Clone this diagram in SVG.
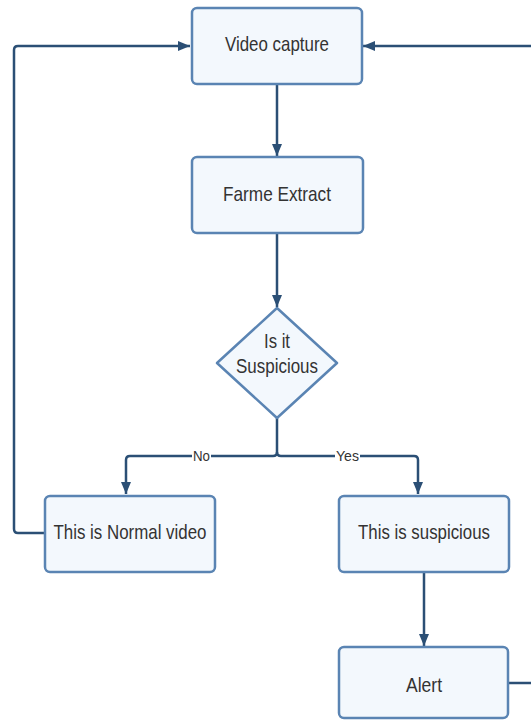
<svg xmlns="http://www.w3.org/2000/svg" width="531" height="720" viewBox="0 0 531 720">
<style>
.box{fill:#f3f8fd;stroke:#5a84b3;stroke-width:2.5}
.t{font-family:"Liberation Sans",Arial,sans-serif;font-size:21px;fill:#333333;text-anchor:middle}
.lbl{font-family:"Liberation Sans",Arial,sans-serif;font-size:15px;fill:#333333;text-anchor:middle}
.c{fill:none;stroke:#2b4f75;stroke-width:2.5;stroke-linejoin:round}
</style>
<defs>
<marker id="ah" viewBox="0 0 12 10" refX="12" refY="5" markerWidth="12" markerHeight="10" markerUnits="userSpaceOnUse" orient="auto">
<path d="M0,0 L12,5 L0,10 Z" fill="#2b4f75"/>
</marker>
</defs>
<rect width="531" height="720" fill="#ffffff"/>
<g id="connectors">
<path class="c" d="M277,84 V156" marker-end="url(#ah)"/>
<path class="c" d="M277,233 V307" marker-end="url(#ah)"/>
<path class="c" d="M277,418 V452 Q277,456 273,456 H130 Q126,456 126,460 V494" marker-end="url(#ah)"/>
<path class="c" d="M277,452 Q277,456 281,456 H414 Q418,456 418,460 V494" marker-end="url(#ah)"/>
<path class="c" d="M424,572 V646" marker-end="url(#ah)"/>
<path class="c" d="M45,533 H18 Q14,533 14,529 V50 Q14,46 18,46 H190" marker-end="url(#ah)"/>
<path class="c" d="M508,683 H540"/>
<path class="c" d="M540,46 H363" marker-end="url(#ah)"/>
<rect x="192" y="449" width="19" height="14" fill="#ffffff"/>
<text class="lbl" x="201.5" y="461" textLength="17" lengthAdjust="spacingAndGlyphs">No</text>
<rect x="335" y="449" width="25" height="14" fill="#ffffff"/>
<text class="lbl" x="347.5" y="461" textLength="23" lengthAdjust="spacingAndGlyphs">Yes</text>
</g>
<g id="video-capture">
<rect class="box" x="192" y="8" width="170" height="76" rx="5"/>
<text class="t" x="277" y="51" textLength="104" lengthAdjust="spacingAndGlyphs">Video capture</text>
</g>
<g id="frame-extract">
<rect class="box" x="192" y="157" width="171" height="76" rx="5"/>
<text class="t" x="277" y="201" textLength="108" lengthAdjust="spacingAndGlyphs">Farme Extract</text>
</g>
<g id="decision">
<path class="box" d="M277,308 L337,363 L277,418 L217,363 Z" stroke-linejoin="round"/>
<text class="t" x="277" y="348" textLength="26" lengthAdjust="spacingAndGlyphs">Is it</text>
<text class="t" x="277" y="373" textLength="82" lengthAdjust="spacingAndGlyphs">Suspicious</text>
</g>
<g id="normal-video">
<rect class="box" x="45" y="496" width="170" height="76" rx="5"/>
<text class="t" x="130" y="539" textLength="153" lengthAdjust="spacingAndGlyphs">This is Normal video</text>
</g>
<g id="suspicious">
<rect class="box" x="339" y="496" width="170" height="76" rx="5"/>
<text class="t" x="424" y="539" textLength="132" lengthAdjust="spacingAndGlyphs">This is suspicious</text>
</g>
<g id="alert">
<rect class="box" x="339" y="647" width="169" height="71" rx="5"/>
<text class="t" x="424" y="692" textLength="36" lengthAdjust="spacingAndGlyphs">Alert</text>
</g>
</svg>
